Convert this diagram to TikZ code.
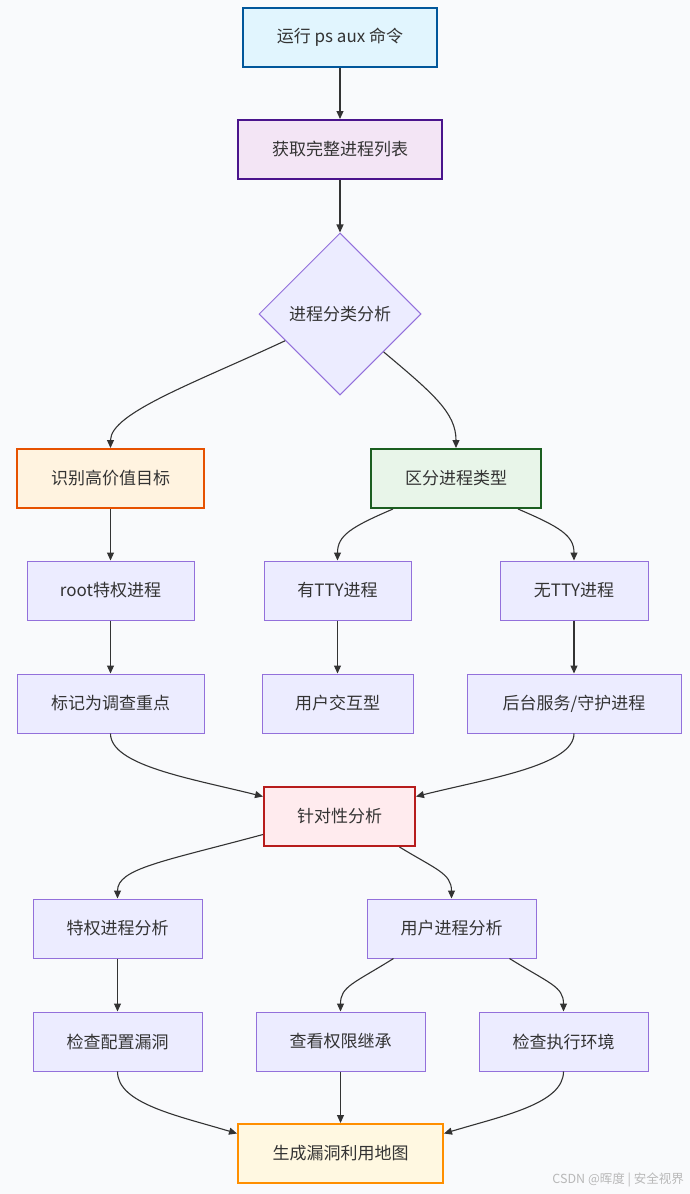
\documentclass[tikz,border=0pt]{standalone}
\usepackage{fontspec}
\setmainfont{Noto Sans CJK SC}
\usetikzlibrary{shapes.geometric,arrows.meta}
\definecolor{bgc}{HTML}{F9FAFC}
\definecolor{txt}{HTML}{333333}
\definecolor{dfill}{HTML}{ECECFF}
\definecolor{dline}{HTML}{9370DB}
\definecolor{bfill}{HTML}{E1F5FE}\definecolor{bline}{HTML}{01579B}
\definecolor{pfill}{HTML}{F3E5F5}\definecolor{pline}{HTML}{4A148C}
\definecolor{ofill}{HTML}{FFF3E0}\definecolor{oline}{HTML}{E65100}
\definecolor{gfill}{HTML}{E8F5E9}\definecolor{gline}{HTML}{1B5E20}
\definecolor{rfill}{HTML}{FFEBEE}\definecolor{rline}{HTML}{B71C1C}
\definecolor{yfill}{HTML}{FFF8E1}\definecolor{yline}{HTML}{FF8F00}
\tikzset{
  box/.style={rectangle, draw=dline, fill=dfill, line width=1pt, text=txt,
    font=\fontsize{17}{20}\selectfont, minimum height=59pt, inner sep=0pt, align=center},
  hbox/.style={box, line width=2pt},
  conn/.style={draw=txt, line width=1.1pt, -{Triangle[length=8pt,width=7pt]}},
}
\begin{document}
\begin{tikzpicture}[x=1pt,y=-1pt]
\fill[bgc] (0,0) rectangle (690,1194);
\useasboundingbox (0,0) rectangle (690,1194);

\node[hbox, draw=bline, fill=bfill, minimum width=194pt] (n1) at (340,37) {运行 ps aux 命令};
\node[hbox, draw=pline, fill=pfill, minimum width=204pt] (n2) at (340,149.5) {获取完整进程列表};
\node[diamond, draw=dline, fill=dfill, line width=1pt, text=txt, font=\fontsize{17}{20}\selectfont,
  minimum width=162pt, minimum height=162pt, inner sep=0pt] (d) at (340,314) {进程分类分析};
\node[hbox, draw=oline, fill=ofill, minimum width=187pt] (n4) at (110.5,478.5) {识别高价值目标};
\node[hbox, draw=gline, fill=gfill, minimum width=170pt] (n5) at (456,478.5) {区分进程类型};
\node[box, minimum width=167pt] (n6) at (110.5,590.5) {root特权进程};
\node[box, minimum width=147pt] (n7) at (337.5,590.5) {有TTY进程};
\node[box, minimum width=148pt] (n8) at (574,590.5) {无TTY进程};
\node[box, minimum width=187pt] (n9) at (110.5,703.5) {标记为调查重点};
\node[box, minimum width=151pt] (n10) at (337.5,703.5) {用户交互型};
\node[box, minimum width=214pt] (n11) at (574,703.5) {后台服务/守护进程};
\node[hbox, draw=rline, fill=rfill, minimum width=151pt] (n12) at (339.5,816.5) {针对性分析};
\node[box, minimum width=169pt] (n13) at (117.5,928.5) {特权进程分析};
\node[box, minimum width=169pt] (n14) at (451.5,928.5) {用户进程分析};
\node[box, minimum width=169pt] (n15) at (117.5,1041.5) {检查配置漏洞};
\node[box, minimum width=169pt] (n16) at (340.5,1041.5) {查看权限继承};
\node[box, minimum width=169pt] (n17) at (563.5,1041.5) {检查执行环境};
\node[hbox, draw=yline, fill=yfill, minimum width=205pt] (n18) at (340.5,1153.5) {生成漏洞利用地图};

\node[anchor=south east, text=black!28, font=\fontsize{12.5}{14}\selectfont, inner sep=0pt] (wm) at (684,1187) {CSDN @晖度 | 安全视界};

\draw[conn] (n1) -- (n2);
\draw[conn] (n2) -- (d);
\draw[conn] (d.206) .. controls +(-90,42) and +(0,-35) .. (n4.north);
\draw[conn] (d.-41) .. controls +(50,42) and +(0,-35) .. (n5.north);
\draw[conn] (n4) -- (n6);
\draw[conn] (n6) -- (n9);
\draw[conn] ([xshift=-63pt]n5.south) .. controls +(-42,18) and +(0,-25) .. (n7.north);
\draw[conn] ([xshift=62pt]n5.south) .. controls +(42,18) and +(0,-25) .. (n8.north);
\draw[conn] (n7) -- (n10);
\draw[conn] (n8) -- (n11);
\draw[conn] (n9.south) .. controls +(0,32) and +(-72,-18) .. ([yshift=20pt]n12.west);
\draw[conn] (n11.south) .. controls +(0,32) and +(72,-18) .. ([yshift=20pt]n12.east);
\draw[conn] ([yshift=-18pt]n12.west) .. controls +(-100,27) and +(0,-30) .. (n13.north);
\draw[conn] ([xshift=60pt]n12.south) .. controls +(36,22) and +(0,-25) .. (n14.north);
\draw[conn] (n13) -- (n15);
\draw[conn] ([xshift=-58pt]n14.south) .. controls +(-40,25) and +(0,-25) .. (n16.north);
\draw[conn] ([xshift=58pt]n14.south) .. controls +(40,25) and +(0,-25) .. (n17.north);
\draw[conn] (n15.south) .. controls +(0,32) and +(-60,-18) .. ([yshift=20pt]n18.west);
\draw[conn] (n16) -- (n18);
\draw[conn] (n17.south) .. controls +(0,32) and +(60,-18) .. ([yshift=20pt]n18.east);
\end{tikzpicture}
\end{document}
